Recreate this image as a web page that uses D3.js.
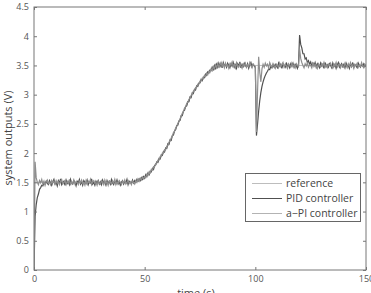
<!DOCTYPE html>
<html><head><meta charset="utf-8">
<script src="https://cdn.jsdelivr.net/npm/d3@7"></script>
<style>body{margin:0;background:#fff}svg{display:block}text{font-family:"Open Sans","DejaVu Sans",sans-serif}</style>
</head><body><svg id="c" width="371" height="293"></svg>
<script>
const xTicks = [0, 50, 100, 150];
const yTicks = [0, 0.5, 1, 1.5, 2, 2.5, 3, 3.5, 4, 4.5];
const sampleStep = 0.5; // seconds between samples of the controller outputs
const seriesNames = ["reference", "PID controller", "a\u2212PI controller"];

const refTime = [0,45,46,47,48,49,50,52,54,56,58,60,62,64,66,68,70,72,74,76,78,80,82,84,86,150];
const refVal  = [1.5,1.5,1.505,1.515,1.53,1.55,1.58,1.65,1.75,1.86,1.98,2.1,2.25,2.42,2.58,2.75,2.9,3.05,3.17,3.27,3.35,3.43,3.47,3.49,3.5,3.5];

const pidVal = [
0,0.92,1.12,1.24,1.3,1.38,1.41,1.45,1.44,1.49,1.47,1.52,1.48,1.46,1.53,1.49,1.45,1.51,1.55,1.47,
1.5,1.44,1.53,1.49,1.56,1.46,1.5,1.52,1.45,1.54,1.48,1.51,1.46,1.55,1.49,1.47,1.53,1.5,1.44,1.52,
1.49,1.55,1.47,1.51,1.45,1.53,1.5,1.48,1.54,1.46,1.51,1.49,1.56,1.47,1.5,1.45,1.52,1.48,1.53,1.47,
1.51,1.46,1.54,1.49,1.5,1.45,1.53,1.48,1.52,1.47,1.55,1.49,1.46,1.52,1.48,1.54,1.47,1.51,1.45,1.5,
1.53,1.47,1.51,1.49,1.55,1.46,1.52,1.5,1.48,1.54,1.49,1.53,1.5,1.55,1.52,1.56,1.53,1.58,1.55,1.6,
1.57,1.63,1.6,1.66,1.63,1.69,1.68,1.74,1.72,1.79,1.8,1.85,1.84,1.91,1.9,1.97,1.96,2.03,2.02,2.09,
2.08,2.16,2.15,2.23,2.22,2.3,2.31,2.38,2.4,2.47,2.48,2.55,2.56,2.64,2.64,2.72,2.73,2.8,2.81,2.88,
2.88,2.96,2.95,3.03,3.02,3.09,3.08,3.15,3.14,3.2,3.2,3.26,3.24,3.3,3.29,3.35,3.33,3.39,3.37,3.42,
3.41,3.47,3.43,3.5,3.45,3.52,3.47,3.54,3.48,3.53,3.46,3.55,3.49,3.52,3.47,3.54,3.5,3.46,3.53,3.49,
3.55,3.47,3.51,3.45,3.53,3.49,3.56,3.46,3.52,3.48,3.54,3.5,3.47,3.53,3.45,3.51,3.55,3.48,3.52,3.49,
3.46,2.3,2.5,2.72,2.9,3.04,3.14,3.22,3.28,3.33,3.37,3.4,3.44,3.43,3.48,3.46,3.51,3.47,3.52,3.49,
3.46,3.54,3.49,3.52,3.45,3.53,3.5,3.47,3.55,3.48,3.51,3.46,3.53,3.49,3.54,3.47,3.52,3.5,3.45,3.51,
4.02,3.86,3.8,3.7,3.7,3.61,3.63,3.55,3.58,3.52,3.56,3.49,3.54,3.5,3.55,3.47,3.53,3.5,3.46,3.54,
3.49,3.52,3.45,3.55,3.48,3.51,3.47,3.53,3.5,3.46,3.54,3.48,3.52,3.45,3.51,3.55,3.47,3.5,3.53,3.48,
3.52,3.46,3.54,3.49,3.5,3.45,3.53,3.48,3.55,3.47,3.51,3.49,3.46,3.54,3.5,3.47,3.52,3.49,3.53,3.48,3.5
];

const apiVal = [
0,1.85,1.58,1.5,1.46,1.53,1.49,1.55,1.47,1.52,1.45,1.51,1.54,1.48,1.5,1.46,1.53,1.49,1.52,1.47,
1.53,1.48,1.51,1.46,1.52,1.55,1.47,1.5,1.53,1.46,1.52,1.49,1.55,1.45,1.51,1.48,1.54,1.47,1.51,1.5,
1.46,1.52,1.49,1.54,1.48,1.5,1.45,1.53,1.47,1.52,1.49,1.55,1.46,1.51,1.53,1.48,1.5,1.45,1.52,1.49,
1.47,1.53,1.5,1.46,1.54,1.48,1.51,1.45,1.52,1.5,1.47,1.53,1.49,1.55,1.46,1.51,1.48,1.53,1.5,1.46,
1.52,1.49,1.54,1.47,1.5,1.53,1.48,1.51,1.46,1.52,1.5,1.47,1.53,1.5,1.56,1.52,1.57,1.54,1.59,1.56,
1.6,1.58,1.64,1.62,1.68,1.66,1.72,1.71,1.77,1.77,1.82,1.83,1.88,1.88,1.94,1.94,2.0,2.0,2.06,2.06,
2.12,2.13,2.19,2.21,2.26,2.29,2.35,2.37,2.43,2.46,2.51,2.54,2.59,2.63,2.68,2.71,2.77,2.79,2.85,2.87,
2.92,2.94,2.99,3.01,3.06,3.07,3.12,3.13,3.18,3.18,3.23,3.23,3.28,3.27,3.33,3.31,3.37,3.34,3.4,3.38,
3.44,3.41,3.48,3.44,3.51,3.46,3.53,3.47,3.5,3.55,3.48,3.52,3.46,3.54,3.49,3.51,3.45,3.53,3.5,3.56,
3.48,3.52,3.46,3.55,3.5,3.47,3.53,3.49,3.45,3.52,3.49,3.54,3.47,3.51,3.48,3.55,3.5,3.46,3.52,3.5,
3.48,2.36,3.05,3.65,3.38,3.22,3.44,3.52,3.47,3.54,3.49,3.52,3.46,3.55,3.5,3.47,3.53,3.49,3.45,3.52,
3.5,3.46,3.54,3.48,3.51,3.55,3.47,3.52,3.49,3.45,3.53,3.5,3.47,3.54,3.48,3.51,3.46,3.53,3.5,3.48,
3.78,3.62,3.55,3.5,3.46,3.53,3.49,3.54,3.47,3.51,3.5,3.46,3.55,3.48,3.52,3.49,3.45,3.53,3.5,3.47,
3.53,3.49,3.55,3.47,3.51,3.46,3.52,3.5,3.54,3.48,3.45,3.52,3.49,3.55,3.47,3.5,3.53,3.46,3.51,3.49,
3.47,3.54,3.5,3.46,3.53,3.49,3.55,3.48,3.51,3.45,3.52,3.5,3.54,3.47,3.51,3.48,3.55,3.49,3.46,3.52,3.5
];

const colors = {ref: "#bdbdbd", pid: "#505050", api: "#8e8e8e"};

const svg = d3.select("#c");
const m = {l: 34, r: 5, t: 7, b: 23};
const W = 371, H = 293;
const x = d3.scaleLinear().domain([0, 150]).range([m.l, W - m.r]);
const y = d3.scaleLinear().domain([0, 4.5]).range([H - m.b, m.t]);

svg.append("clipPath").attr("id", "pc").append("rect")
  .attr("x", m.l).attr("y", m.t).attr("width", W - m.r - m.l).attr("height", H - m.b - m.t);

const line = d3.line().x(d => x(d[0])).y(d => y(d[1]));
const refData = refTime.map((t, i) => [t, refVal[i]]);
const pidData = pidVal.map((v, i) => [i * sampleStep, v]);
const apiData = apiVal.map((v, i) => [i * sampleStep, v]);

const g = svg.append("g").attr("clip-path", "url(#pc)");
g.append("path").datum(refData).attr("d", d3.line().x(d => x(d[0])).y(d => y(d[1])).curve(d3.curveMonotoneX))
  .attr("fill", "none").attr("stroke", colors.ref).attr("stroke-width", 1);
g.append("path").datum(pidData).attr("d", line).attr("fill", "none").attr("stroke", colors.pid).attr("stroke-width", 1.2);
g.append("path").datum(apiData).attr("d", line).attr("fill", "none").attr("stroke", colors.api).attr("stroke-width", 1.2);

const axisColor = "#777";
const tickColor = "#555";
function styleAxis(sel) {
  sel.select(".domain").remove();
  sel.selectAll("line").attr("stroke", axisColor);
  sel.selectAll("text").attr("fill", tickColor).style("font-size", "9px");
}
const fmt = d3.format("");
svg.append("g").attr("transform", `translate(0,${H - m.b})`)
  .call(d3.axisBottom(x).tickValues(xTicks).tickSize(-3).tickPadding(6).tickFormat(fmt)).call(styleAxis);
svg.append("g").attr("transform", `translate(0,${m.t})`)
  .call(d3.axisTop(x).tickValues(xTicks).tickSize(-3).tickFormat("")).call(styleAxis);
svg.append("g").attr("transform", `translate(${m.l},0)`)
  .call(d3.axisLeft(y).tickValues(yTicks).tickSize(-3).tickPadding(5).tickFormat(fmt)).call(styleAxis);
svg.append("g").attr("transform", `translate(${W - m.r},0)`)
  .call(d3.axisRight(y).tickValues(yTicks).tickSize(-3).tickFormat("")).call(styleAxis);

svg.append("rect").attr("x", m.l).attr("y", m.t).attr("width", W - m.r - m.l).attr("height", H - m.b - m.t)
  .attr("fill", "none").attr("stroke", axisColor).attr("stroke-width", 1);

svg.append("text").attr("x", 196).attr("y", 297).attr("text-anchor", "middle")
  .attr("fill", "#444").style("font-size", "11px").text("time (s)");
svg.append("text").attr("transform", "translate(12,138) rotate(-90)").attr("text-anchor", "middle")
  .attr("fill", "#444").style("font-size", "11px").text("system outputs (V)");

// legend
const lg = svg.append("g");
lg.append("rect").attr("x", 245.5).attr("y", 173.5).attr("width", 115).attr("height", 48)
  .attr("fill", "#fff").attr("stroke", "#666").attr("stroke-width", 1);
const legCols = [colors.ref, colors.pid, "#b3b3b3"];
seriesNames.forEach((n, i) => {
  const yy = 183.5 + i * 15;
  lg.append("line").attr("x1", 252).attr("x2", 282).attr("y1", yy).attr("y2", yy)
    .attr("stroke", legCols[i]).attr("stroke-width", 1);
  lg.append("text").attr("x", 286).attr("y", yy + 3.5).attr("fill", "#444").style("font-size", "10.5px").text(n);
});
</script></body></html>
